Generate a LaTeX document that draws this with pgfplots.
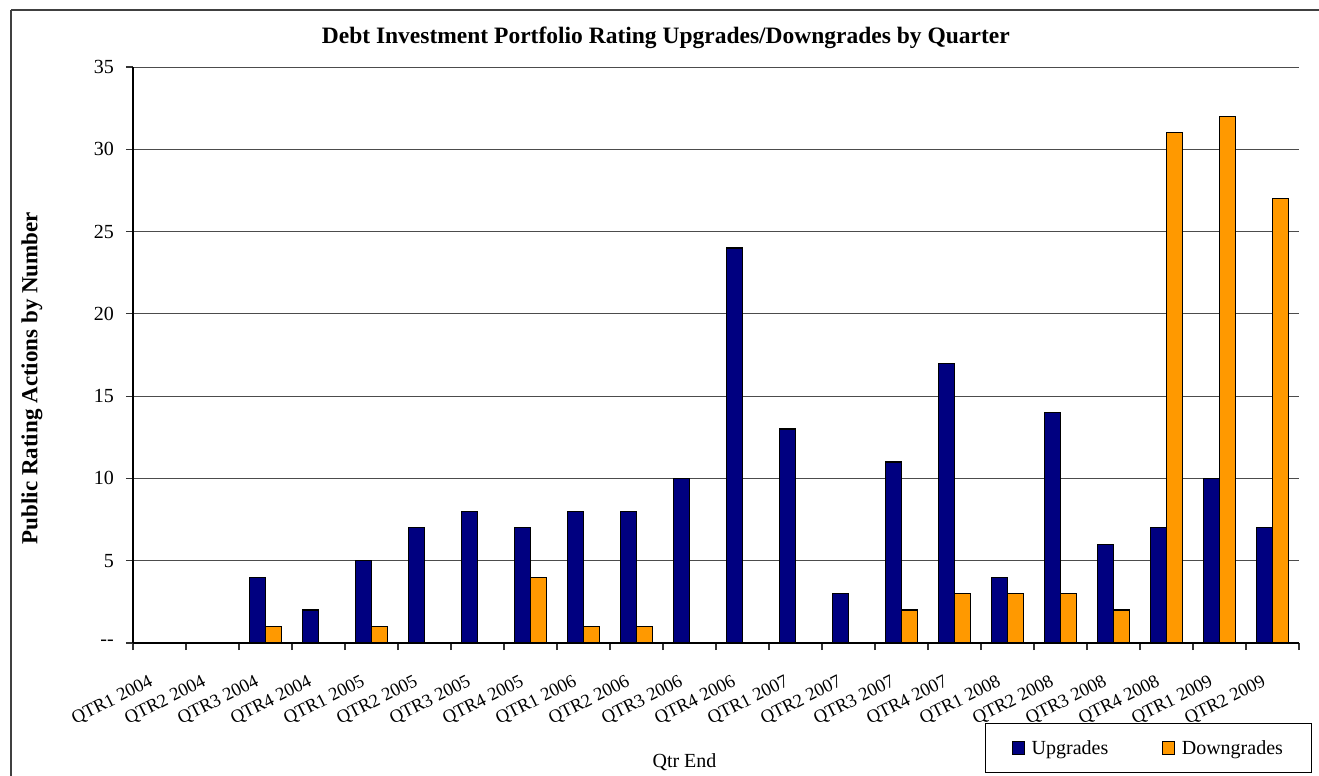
\documentclass[border=0pt]{standalone}
\usepackage{fontspec}
\setmainfont{Liberation Serif}
\usepackage{pgfplots}
\pgfplotsset{compat=1.18}
\definecolor{upc}{HTML}{000080}
\definecolor{downc}{HTML}{FF9900}
\begin{document}
\begin{tikzpicture}
\useasboundingbox (0,0) rectangle (1319bp,-776bp);
\draw[line width=2bp, black!75] (11bp,-10bp) -- (1319bp,-10bp);
\draw[line width=1.2bp, black!75] (11bp,-10bp) -- (11bp,-776bp);
\begin{axis}[
  at={(133bp,-643bp)}, anchor=south west,
  scale only axis, width=1166bp, height=576bp,
  xmin=-0.5, xmax=21.5, ymin=0, ymax=35,
  ybar=0pt, bar width=16bp,
  axis x line*=bottom, axis y line*=left,
  axis line style={line width=1.2bp, black},
  xtick={0,...,21},
  xticklabels={QTR1 2004,QTR2 2004,QTR3 2004,QTR4 2004,QTR1 2005,QTR2 2005,QTR3 2005,QTR4 2005,QTR1 2006,QTR2 2006,QTR3 2006,QTR4 2006,QTR1 2007,QTR2 2007,QTR3 2007,QTR4 2007,QTR1 2008,QTR2 2008,QTR3 2008,QTR4 2008,QTR1 2009,QTR2 2009},
  major x tick style={draw=none},
  minor xtick={-0.5,0.5,...,21.5},
  minor x tick style={line width=1.2bp, black!80},
  minor tick length=7bp,
  tick align=outside,
  xticklabel style={rotate=27, anchor=north east, font=\fontsize{18.5bp}{21bp}\selectfont, inner sep=1bp, yshift=-15bp, xshift=-20bp},
  ytick={0,5,...,35},
  yticklabels={-{}-,5,10,15,20,25,30,35},
  yticklabel style={font=\fontsize{20bp}{22bp}\selectfont, inner sep=2bp, xshift=-10bp},
  major y tick style={line width=1.2bp, black!80},
  major tick length=7bp,
  ymajorgrids, grid style={line width=0.9bp, black!70},
  title={\textbf{Debt Investment Portfolio Rating Upgrades/Downgrades by Quarter}},
  title style={at={(axis description cs:0.457,1.040)}, anchor=center, font=\fontsize{23.5bp}{26bp}\selectfont},
  xlabel={Qtr End},
  xlabel style={at={(axis description cs:0.473,-0.207)}, anchor=center, font=\fontsize{20bp}{22bp}\selectfont},
  ylabel={\textbf{Public Rating Actions by Number}},
  ylabel style={at={(axis description cs:-0.0866,0.46)}, anchor=center, rotate=0, font=\fontsize{23bp}{26bp}\selectfont},
  legend columns=2,
  legend style={at={(axis description cs:0.871,-0.182)}, anchor=center, draw=black, line width=1bp,
    font=\fontsize{20bp}{22bp}\selectfont, inner xsep=27bp, inner ysep=15bp,
    /tikz/every even column/.append style={column sep=52bp}},
  legend image code/.code={\draw[#1, line width=1bp] (0bp,-6.5bp) rectangle (12bp,6.5bp); \path[draw=none, fill=none] (0bp,0bp) -- (17bp,0bp);},
]
\addplot[fill=upc, draw=black, line width=1.3bp] coordinates {
(2,4) (3,2) (4,5) (5,7) (6,8) (7,7) (8,8) (9,8) (10,10) (11,24) (12,13) (13,3) (14,11) (15,17) (16,4) (17,14) (18,6) (19,7) (20,10) (21,7)};
\addplot[fill=downc, draw=black, line width=1.3bp] coordinates {
(2,1) (4,1) (7,4) (8,1) (9,1) (14,2) (15,3) (16,3) (17,3) (18,2) (19,31) (20,32) (21,27)};
\legend{Upgrades,Downgrades}
\end{axis}
\end{tikzpicture}
\end{document}
